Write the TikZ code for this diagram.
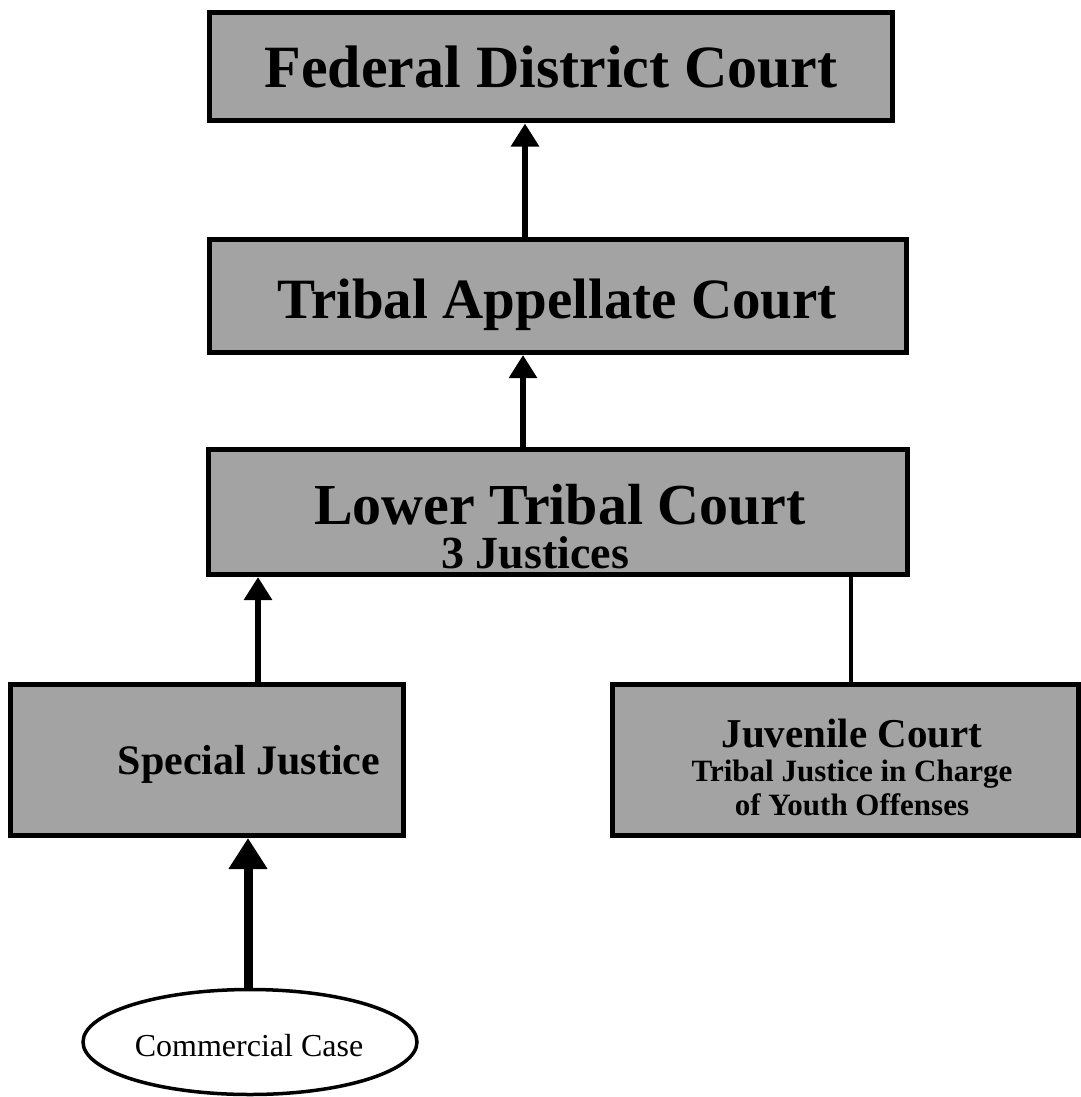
\documentclass[tikz,border=0pt]{standalone}
\usepackage{fontspec}
\setmainfont{Liberation Serif}
\usetikzlibrary{arrows.meta,shapes.geometric}
\begin{document}
\begin{tikzpicture}[x=1pt,y=-1pt,
  court/.style={draw=black, line width=5pt, fill=black!36, inner sep=0pt},
  label/.style={anchor=base, inner sep=0pt, font=\bfseries},
  link/.style={line width=6.5pt, -{Triangle[width=27pt,length=23pt]}},
  plain/.style={line width=4pt},
  caseshape/.style={draw=black, ellipse, line width=3.5pt, fill=white, inner sep=0pt}]
\useasboundingbox (0,0) rectangle (1080,1097);

% court boxes
\node[court, minimum width=683pt, minimum height=108pt] (fed) at (551,67) {};
\node[court, minimum width=697pt, minimum height=113pt] (app) at (558,296) {};
\node[court, minimum width=699pt, minimum height=125pt] (low) at (558,512) {};
\node[court, minimum width=393pt, minimum height=151pt] (spec) at (207,760) {};
\node[court, minimum width=466pt, minimum height=151pt] (juv) at (845,760) {};
\node[caseshape, minimum width=334pt, minimum height=105pt] (case) at (250,1042) {};

% box texts
\node[label, font=\fontsize{60}{62}\selectfont\bfseries] (fedname) at (551,88) {Federal District Court};
\node[label, font=\fontsize{57}{60}\selectfont\bfseries] (appname) at (557,318) {Tribal Appellate Court};
\node[label, font=\fontsize{58}{60}\selectfont\bfseries] (lowname) at (560,524) {Lower Tribal Court};
\node[label, font=\fontsize{46}{48}\selectfont\bfseries] (lowsub) at (535,568) {3 Justices};
\node[label, font=\fontsize{42}{46}\selectfont\bfseries] (specname) at (249,774) {Special Justice};
\node[label, font=\fontsize{41}{44}\selectfont\bfseries] (juvname) at (852,747) {Juvenile Court};
\node[label, font=\fontsize{31}{34}\selectfont\bfseries] (juvsubA) at (852,781) {Tribal Justice in Charge};
\node[label, font=\fontsize{31}{34}\selectfont\bfseries] (juvsubB) at (852,815) {of Youth Offenses};
\node[anchor=base, inner sep=0pt, font=\fontsize{32}{36}\selectfont] (casename) at (249,1056) {Commercial Case};

% appeal routes
\draw[link] (app.north -| 525,0) -- (fed.south -| 525,0);
\draw[link] (low.north -| 523,0) -- (app.south -| 523,0);
\draw[link] (spec.north -| 258,0) -- (low.south -| 258,0);
\draw[plain] (juv.north -| 851,0) -- (low.south -| 851,0);
\draw[line width=9pt, -{Triangle[width=37pt,length=31pt]}] (case.north -| 248,0) -- (spec.south -| 248,0);
\end{tikzpicture}
\end{document}
